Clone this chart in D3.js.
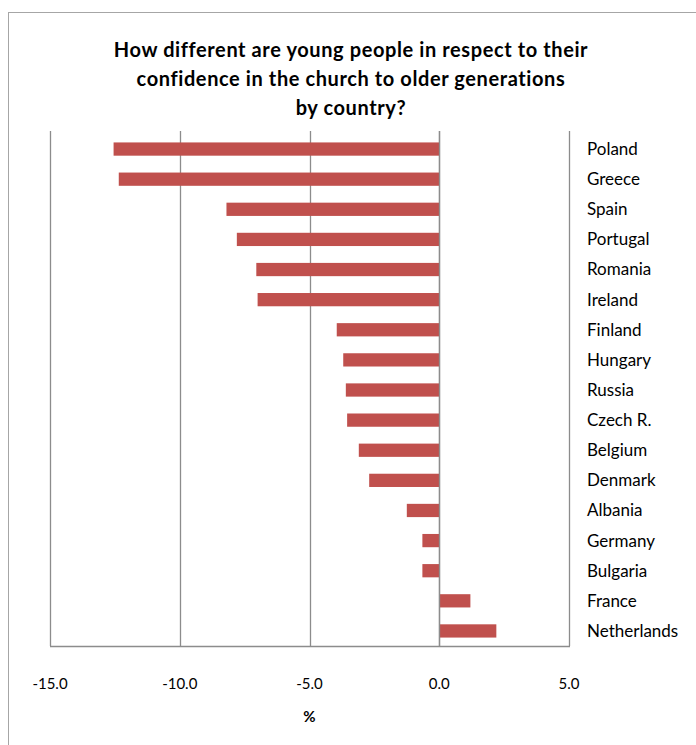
<!DOCTYPE html>
<html>
<head>
<meta charset="utf-8">
<script src="https://cdn.jsdelivr.net/npm/d3@7"></script>
<style>
  body { margin: 0; background: #fff; }
  text { font-family: Lato, "Open Sans", sans-serif; fill: #000; }
</style>
</head>
<body>
<script>
// chart data
var countries = ["Poland", "Greece", "Spain", "Portugal", "Romania", "Ireland", "Finland", "Hungary",
  "Russia", "Czech R.", "Belgium", "Denmark", "Albania", "Germany", "Bulgaria", "France", "Netherlands"];
var diffs = [-12.55, -12.35, -8.2, -7.8, -7.05, -7.0, -3.95, -3.7, -3.6, -3.55, -3.1, -2.7, -1.25, -0.65, -0.65, 1.2, 2.2];
var xTicks = [-15, -10, -5, 0, 5];
var titleLines = ["How different are young people in respect to their",
  "confidence in the church to older generations", "by country?"];

var W = 696, H = 745;
var plot = {left: 50, right: 569, top: 134, bottom: 646};

var svg = d3.select("body").append("svg")
    .attr("width", W)
    .attr("height", H);

// outer chart frame
svg.append("rect")
    .attr("x", 8.5).attr("y", 12.5)
    .attr("width", 720).attr("height", 760)
    .style("fill", "none")
    .style("stroke", "#a6a6a6");

svg.append("text")
    .attr("x", 351)
    .attr("y", 57)
    .style("text-anchor", "middle")
    .style("font-weight", "bold")
    .style("font-size", "20px")
    .style("letter-spacing", "0.6px")
  .selectAll("tspan")
    .data(titleLines)
  .enter().append("tspan")
    .attr("x", 351)
    .attr("dy", function(d, i) { return i == 0 ? 0 : 29; })
    .text(function(d) { return d; });

var x = d3.scaleLinear().domain([-15, 5]).range([plot.left, plot.right]);
var y = d3.scaleBand().domain(countries).range([plot.top, plot.bottom]).paddingInner(0.56).paddingOuter(0.28);

// vertical gridlines
svg.selectAll(".grid")
    .data(xTicks)
  .enter().append("line")
    .attr("x1", function(d) { return Math.round(x(d)) + 0.5; })
    .attr("x2", function(d) { return Math.round(x(d)) + 0.5; })
    .attr("y1", plot.top - 3)
    .attr("y2", plot.bottom)
    .style("stroke", "#8c8c8c")
    .style("stroke-width", 1.3);

// bottom axis line
svg.append("line")
    .attr("x1", x(-15)).attr("x2", x(5) + 1)
    .attr("y1", plot.bottom + 0.5).attr("y2", plot.bottom + 0.5)
    .style("stroke", "#8c8c8c")
    .style("stroke-width", 1.3);

// bars
svg.selectAll(".bar")
    .data(diffs)
  .enter().append("rect")
    .attr("class", "bar")
    .attr("x", function(d) { return x(Math.min(0, d)); })
    .attr("y", function(d, i) { return y(countries[i]); })
    .attr("width", function(d) { return Math.abs(x(d) - x(0)); })
    .attr("height", y.bandwidth())
    .style("fill", "#c0504d");

// zero line over bars
svg.append("line")
    .attr("x1", Math.round(x(0)) + 0.5).attr("x2", Math.round(x(0)) + 0.5)
    .attr("y1", plot.top - 3).attr("y2", plot.bottom)
    .style("stroke", "#8c8c8c")
    .style("stroke-width", 1.3);

// country labels
svg.selectAll(".label")
    .data(countries)
  .enter().append("text")
    .attr("x", 587)
    .attr("y", function(d) { return y(d) + y.bandwidth() / 2; })
    .attr("dy", "0.35em")
    .style("font-size", "17px")
    .text(function(d) { return d; });

// tick labels
svg.selectAll(".tick")
    .data(xTicks)
  .enter().append("text")
    .attr("x", function(d) { return x(d); })
    .attr("y", 689)
    .style("text-anchor", "middle")
    .style("font-size", "15px")
    .text(function(d) { return d.toFixed(1); });

svg.append("text")
    .attr("x", x(-5))
    .attr("y", 722)
    .style("text-anchor", "middle")
    .style("font-weight", "bold")
    .style("font-size", "15px")
    .text("%");
</script>
</body>
</html>
